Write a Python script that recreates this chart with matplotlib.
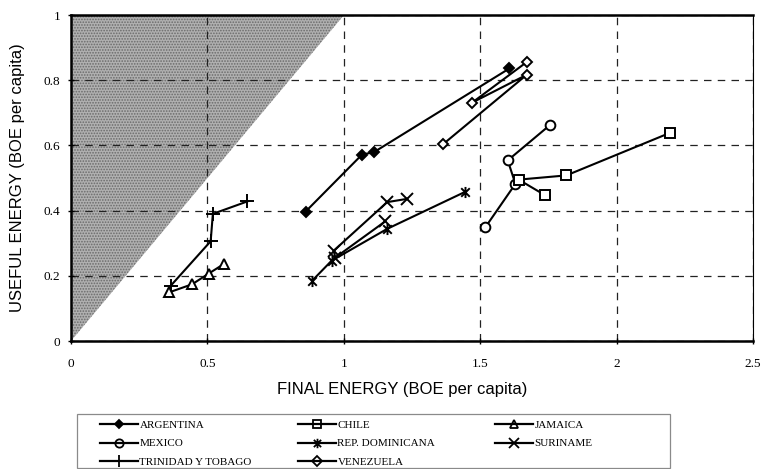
import matplotlib
matplotlib.use("Agg")
import matplotlib.pyplot as plt
from matplotlib.path import Path
from matplotlib.lines import Line2D
from matplotlib.patches import Rectangle

# ---------------------------------------------------------
# DATA
# ---------------------------------------------------------
ARG_X = [0.860, 1.067, 1.110, 1.607]
ARG_Y = [0.397, 0.572, 0.579, 0.836]

CHI_X = [1.736, 1.641, 1.816, 2.197]
CHI_Y = [0.448, 0.495, 0.508, 0.639]

JAM_X = [0.359, 0.444, 0.505, 0.560]
JAM_Y = [0.149, 0.174, 0.207, 0.236]

MEX_X = [1.519, 1.629, 1.601, 1.755]
MEX_Y = [0.349, 0.482, 0.554, 0.662]

DOM_X = [0.884, 0.955, 1.159, 1.446]
DOM_Y = [0.185, 0.246, 0.344, 0.458]

SUR_X = [1.232, 1.159, 0.963, 0.969, 1.152]
SUR_Y = [0.436, 0.426, 0.277, 0.256, 0.367]

TRI_X = [0.365, 0.512, 0.520, 0.646]
TRI_Y = [0.169, 0.306, 0.390, 0.428]

VEN_X = [1.363, 1.671, 1.470, 1.671]
VEN_Y = [0.603, 0.817, 0.731, 0.856]

# shaded "impossible" region (useful > final)
REGION_X = [0, 0, 1]
REGION_Y = [0, 1, 1]

X_TICKS = [0, 0.5, 1, 1.5, 2, 2.5]
X_TICK_LABELS = ["0", "0.5", "1", "1.5", "2", "2.5"]
Y_TICKS = [0, 0.2, 0.4, 0.6, 0.8, 1]
Y_TICK_LABELS = ["0", "0.2", "0.4", "0.6", "0.8", "1"]

# Excel style star marker: X with a vertical bar
STAR = Path([(-1, -1), (1, 1), (-1, 1), (1, -1), (0, -1.3), (0, 1.3)],
            [Path.MOVETO, Path.LINETO, Path.MOVETO, Path.LINETO, Path.MOVETO, Path.LINETO])

# legend columns as in the original (Excel) layout
SERIES_COLUMNS = [
    [("ARGENTINA", ARG_X, ARG_Y, "D", "black", 5),
     ("MEXICO", MEX_X, MEX_Y, "o", "white", 7),
     ("TRINIDAD Y TOBAGO", TRI_X, TRI_Y, "+", "black", 10)],
    [("CHILE", CHI_X, CHI_Y, "s", "white", 7),
     ("REP. DOMINICANA", DOM_X, DOM_Y, STAR, "black", 8),
     ("VENEZUELA", VEN_X, VEN_Y, "D", "white", 5.5)],
    [("JAMAICA", JAM_X, JAM_Y, "^", "white", 7),
     ("SURINAME", SUR_X, SUR_Y, "x", "black", 8)],
]
LEGEND_COL_X = [100, 298, 495]   # pixel position of each legend column

SERIF = "Liberation Serif"
SANS = "Liberation Sans"
W, H = 761, 469

plt.rcParams["hatch.linewidth"] = 0.8

fig = plt.figure(figsize=(W / 100, H / 100), dpi=100)
ax = fig.add_axes([71 / W, 1 - 341 / H, (753 - 71) / W, (341 - 15) / H])

ax.fill(REGION_X, REGION_Y, facecolor="#b0b0b0", edgecolor="#6a6a6a", linewidth=0,
        hatch="......", zorder=1)

for col_idx, column in enumerate(SERIES_COLUMNS):
    handles = []
    for name, xs, ys, mk, face, ms in column:
        ax.plot(xs, ys, color="black", lw=1.5, marker=mk, markersize=ms,
                markerfacecolor=face, markeredgecolor="black", markeredgewidth=1.4,
                zorder=3, clip_on=False)
        handles.append(Line2D([], [], color="black", lw=1.6, marker=mk, markersize=ms * 0.85,
                              markerfacecolor="none" if face == "white" else face,
                              markeredgecolor="black", markeredgewidth=1.3))
    fig.legend(handles, [s[0] for s in column], loc="upper left",
               bbox_to_anchor=(LEGEND_COL_X[col_idx] / W, 1 - 420 / H),
               prop={"family": SERIF, "size": 8}, frameon=False,
               handlelength=3.4, handletextpad=0.15, labelspacing=0.8,
               borderpad=0, borderaxespad=0)

# legend frame
fig.patches.append(Rectangle((77 / W, 1 - 468 / H), (670 - 77) / W, (468 - 414) / H,
                             transform=fig.transFigure, fill=False,
                             edgecolor="#8a8a8a", linewidth=0.9))

ax.set_xlim(0, 2.5)
ax.set_ylim(0, 1)
ax.set_xticks(X_TICKS)
ax.set_xticklabels(X_TICK_LABELS, fontfamily=SERIF, fontsize=9.5)
ax.set_yticks(Y_TICKS)
ax.set_yticklabels(Y_TICK_LABELS, fontfamily=SERIF, fontsize=9.5)
ax.tick_params(axis="x", direction="inout", length=5, width=1, pad=10)
ax.tick_params(axis="y", direction="inout", length=5, width=1, pad=5)

ax.grid(True, color="#222222", lw=0.9, linestyle=(0, (6, 5)))
for gl in ax.get_xgridlines() + ax.get_ygridlines():
    gl.set_zorder(2)

for side in ["left", "bottom", "top"]:
    ax.spines[side].set_linewidth(1.8)
ax.spines["right"].set_linewidth(0.8)

ax.set_xlabel("FINAL ENERGY (BOE per capita)", fontfamily=SANS, fontsize=12)
ax.set_ylabel("USEFUL ENERGY (BOE per capita)", fontfamily=SANS, fontsize=12, labelpad=14)
ax.xaxis.set_label_coords(0.485, -0.125)

fig.savefig("out.png", dpi=100)
